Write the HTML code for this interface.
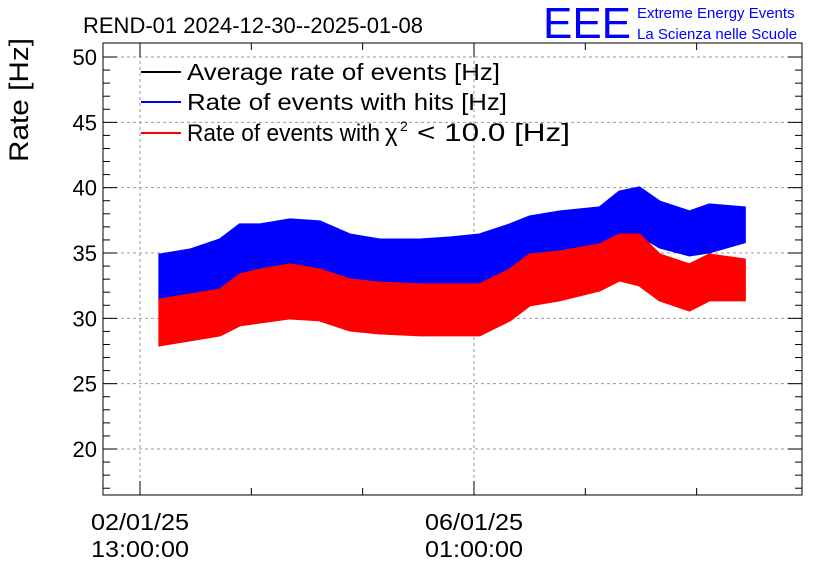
<!DOCTYPE html>
<html><head><meta charset="utf-8"><style>
body{margin:0;background:#fff}
svg text{font-family:"Liberation Sans",sans-serif}
</style></head><body>
<svg id="c" width="836" height="572" xmlns="http://www.w3.org/2000/svg">
<rect width="836" height="572" fill="#fff"/>
<text x="83" y="33" font-size="22">REND-01 2024-12-30--2025-01-08</text>
<text x="543" y="38" font-size="44" fill="#0000ff" textLength="88" lengthAdjust="spacingAndGlyphs">EEE</text>
<text x="637" y="18" font-size="15" fill="#0000ff">Extreme Energy Events</text>
<text x="637" y="39" font-size="15" fill="#0000ff">La Scienza nelle Scuole</text>
<text transform="translate(28,100) rotate(-90)" text-anchor="middle" font-size="27" textLength="124" lengthAdjust="spacingAndGlyphs">Rate [Hz]</text>
<g id="grid"></g>
<g id="series"></g>
<rect x="103" y="43" width="699" height="452" fill="none" stroke="#000" stroke-width="1"/>
<g id="axes"></g>
<g>
<line x1="141" y1="72" x2="181" y2="72" stroke="#000" stroke-width="2"/>
<text x="187" y="80" font-size="23" textLength="313" lengthAdjust="spacingAndGlyphs">Average rate of events [Hz]</text>
<line x1="141" y1="102" x2="181" y2="102" stroke="#0000ff" stroke-width="2"/>
<text x="187" y="110" font-size="23" textLength="320" lengthAdjust="spacingAndGlyphs">Rate of events with hits [Hz]</text>
<line x1="141" y1="133" x2="181" y2="133" stroke="#ff0000" stroke-width="2"/>
<g>
<text x="187" y="141" font-size="24" textLength="193" lengthAdjust="spacingAndGlyphs">Rate of events with</text>
<text x="385" y="141" font-size="24">χ</text>
<text x="400" y="131" font-size="14">2</text>
<text x="417" y="141" font-size="25" textLength="153" lengthAdjust="spacingAndGlyphs">&lt; 10.0 [Hz]</text>
</g>
</g>
</svg>
<script>
const hours=[5,12.6,20.1,25.1,30.2,37.7,45.2,52.8,60.3,70.4,77.9,85.4,93,98,105.5,115.6,120.6,125.6,130.7,138.2,143.2,152];
const blueHi=[34.85,35.23,36.0,37.15,37.15,37.53,37.38,36.38,36.0,36.0,36.15,36.38,37.15,37.76,38.14,38.45,39.67,39.98,38.9,38.14,38.68,38.45];
const blueLo=[31.41,31.56,32.17,32.94,33.32,33.32,33.32,32.56,32.17,32.17,32.17,32.4,33.7,34.62,35.0,35.08,36.61,36.38,35.46,34.85,35.08,35.85];
const redHi=[31.41,31.79,32.17,33.32,33.7,34.09,33.7,32.94,32.7,32.56,32.56,32.56,33.7,34.85,35.08,35.62,36.38,36.38,34.85,34.09,34.85,34.47];
const redLo=[27.97,28.35,28.73,29.5,29.72,30.03,29.88,29.11,28.88,28.73,28.73,28.73,29.88,31.03,31.41,32.17,32.94,32.56,31.41,30.64,31.41,31.41];
const yTicks=[20,25,30,35,40,45,50];
const xTickHours=[0,84];
const xTickLabels=[["02/01/25","13:00:00"],["06/01/25","01:00:00"]];
const NS="http://www.w3.org/2000/svg";
const L=103,R=802,T=43,B=495;
const X=h=>140+h*3.976;
const Y=v=>57+(50-v)*13.067;
function mk(tag,attrs,parent){const e=document.createElementNS(NS,tag);for(const k in attrs)e.setAttribute(k,attrs[k]);document.getElementById(parent).appendChild(e);return e;}
yTicks.forEach(v=>{const e=mk('line',{x1:L,x2:R,y1:Y(v),y2:Y(v),stroke:'#999','stroke-dasharray':'3,3'},'grid');

});
xTickHours.forEach(h=>{const e=mk('line',{x1:X(h),x2:X(h),y1:T,y2:B,stroke:'#999','stroke-dasharray':'3,3'},'grid');

});
function band(hi,lo,color,name){
 let pts=[];
 hours.forEach((h,i)=>pts.push(X(h)+','+Y(hi[i])));
 for(let i=hours.length-1;i>=0;i--)pts.push(X(hours[i])+','+Y(lo[i]));
 const e=mk('polygon',{points:pts.join(' '),fill:color,stroke:color,'stroke-width':3,'stroke-linejoin':'miter'},'series');
 
 
}
band(blueHi,blueLo,'#0000ff','series-hits');
band(redHi,redLo,'#ff0000','series-chi2');
for(let v=17;v<=50;v++){const major=v%5===0;const len=major?14:7;
 let e=mk('line',{x1:L,x2:L+len,y1:Y(v),y2:Y(v),stroke:'#000'},'axes');
 
 
 e=mk('line',{x1:R-len,x2:R,y1:Y(v),y2:Y(v),stroke:'#000'},'axes');
 
 }
yTicks.forEach(v=>{const t=mk('text',{x:97,y:Y(v)+8,'text-anchor':'end','font-size':22},'axes');t.textContent=v;
 
 });
for(let h=-28;h<=28*6;h+=28){const x=X(h);if(x<L||x>R)continue;const major=h%84===0;const len=major?14:7;
 let e=mk('line',{x1:x,x2:x,y1:B-len,y2:B,stroke:'#000'},'axes');
 
 
 e=mk('line',{x1:x,x2:x,y1:T,y2:T+len,stroke:'#000'},'axes');
 
 }
xTickHours.forEach((h,i)=>{[0,1].forEach(j=>{const t=mk('text',{x:X(h),y:530+j*27,'text-anchor':'middle','font-size':23,textLength:98,lengthAdjust:'spacingAndGlyphs'},'axes');t.textContent=xTickLabels[i][j];
 
 });});
</script>
</body></html>
